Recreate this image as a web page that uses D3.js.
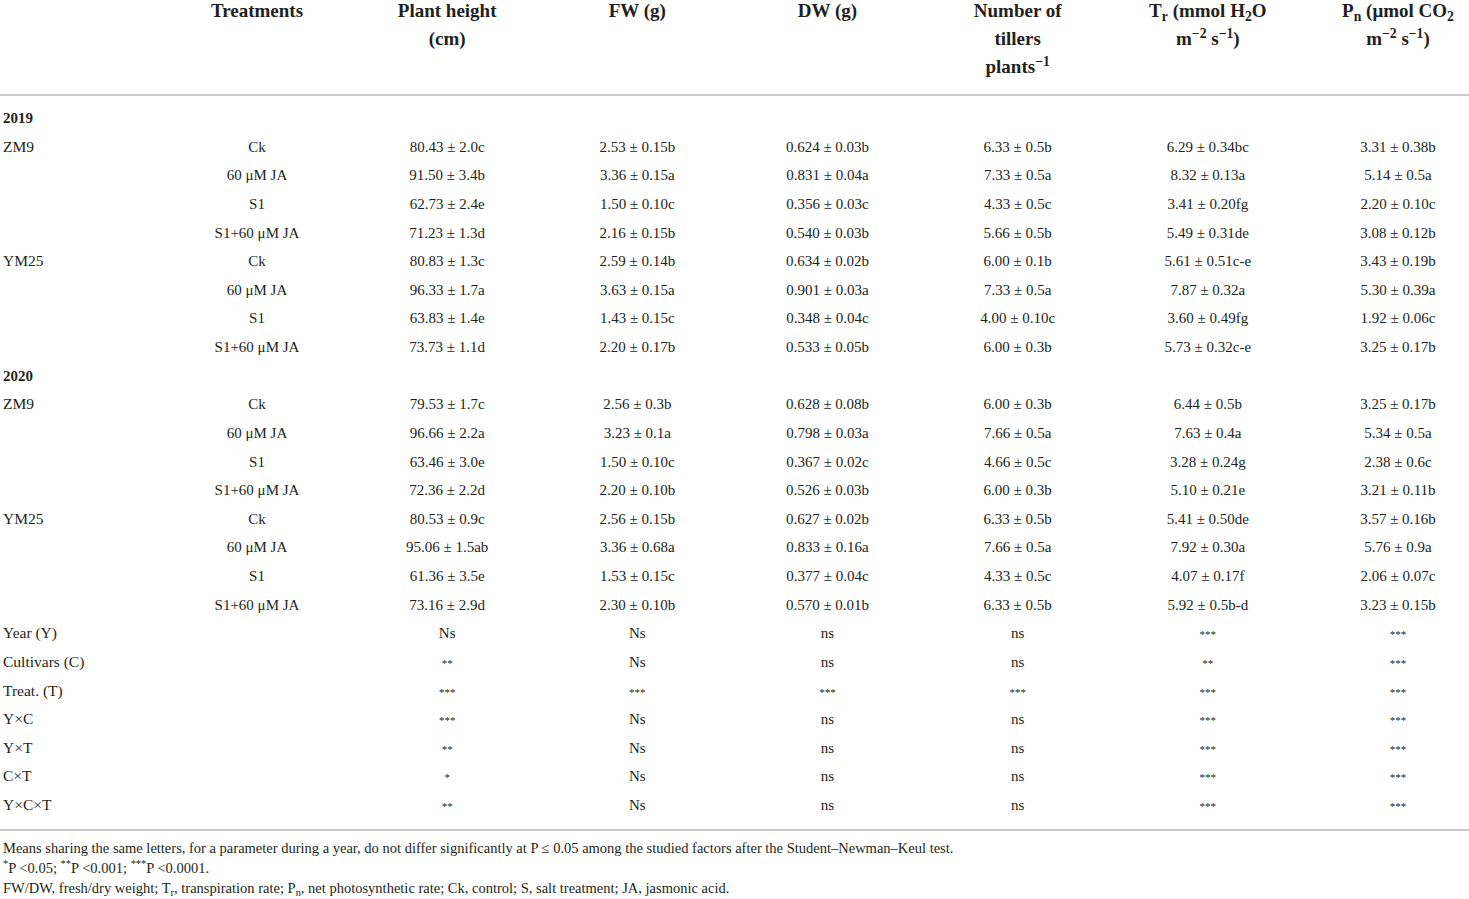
<!DOCTYPE html>
<html lang="en">
<head>
  <meta charset="UTF-8">
  <title>Table</title>
  <script src="https://cdn.jsdelivr.net/npm/d3@7"></script>
  <style>
    body { margin: 0; background: #fff; }
    svg { display: block; }
  </style>
</head>
<body>
  <svg width="1469" height="899"></svg>
  <script>
    // table contents
    var years = ['2019', '2020'];
    var cultivars = ['ZM9', 'YM25'];
    var treatments = ['Ck', '60 μM JA', 'S1', 'S1+60 μM JA'];

    var plantHeight = ['80.43 ± 2.0c', '91.50 ± 3.4b', '62.73 ± 2.4e', '71.23 ± 1.3d', '80.83 ± 1.3c', '96.33 ± 1.7a', '63.83 ± 1.4e', '73.73 ± 1.1d',
                       '79.53 ± 1.7c', '96.66 ± 2.2a', '63.46 ± 3.0e', '72.36 ± 2.2d', '80.53 ± 0.9c', '95.06 ± 1.5ab', '61.36 ± 3.5e', '73.16 ± 2.9d'];
    var freshWeight = ['2.53 ± 0.15b', '3.36 ± 0.15a', '1.50 ± 0.10c', '2.16 ± 0.15b', '2.59 ± 0.14b', '3.63 ± 0.15a', '1.43 ± 0.15c', '2.20 ± 0.17b',
                       '2.56 ± 0.3b', '3.23 ± 0.1a', '1.50 ± 0.10c', '2.20 ± 0.10b', '2.56 ± 0.15b', '3.36 ± 0.68a', '1.53 ± 0.15c', '2.30 ± 0.10b'];
    var dryWeight = ['0.624 ± 0.03b', '0.831 ± 0.04a', '0.356 ± 0.03c', '0.540 ± 0.03b', '0.634 ± 0.02b', '0.901 ± 0.03a', '0.348 ± 0.04c', '0.533 ± 0.05b',
                     '0.628 ± 0.08b', '0.798 ± 0.03a', '0.367 ± 0.02c', '0.526 ± 0.03b', '0.627 ± 0.02b', '0.833 ± 0.16a', '0.377 ± 0.04c', '0.570 ± 0.01b'];
    var tillers = ['6.33 ± 0.5b', '7.33 ± 0.5a', '4.33 ± 0.5c', '5.66 ± 0.5b', '6.00 ± 0.1b', '7.33 ± 0.5a', '4.00 ± 0.10c', '6.00 ± 0.3b',
                   '6.00 ± 0.3b', '7.66 ± 0.5a', '4.66 ± 0.5c', '6.00 ± 0.3b', '6.33 ± 0.5b', '7.66 ± 0.5a', '4.33 ± 0.5c', '6.33 ± 0.5b'];
    var transpiration = ['6.29 ± 0.34bc', '8.32 ± 0.13a', '3.41 ± 0.20fg', '5.49 ± 0.31de', '5.61 ± 0.51c-e', '7.87 ± 0.32a', '3.60 ± 0.49fg', '5.73 ± 0.32c-e',
                         '6.44 ± 0.5b', '7.63 ± 0.4a', '3.28 ± 0.24g', '5.10 ± 0.21e', '5.41 ± 0.50de', '7.92 ± 0.30a', '4.07 ± 0.17f', '5.92 ± 0.5b-d'];
    var photosynthesis = ['3.31 ± 0.38b', '5.14 ± 0.5a', '2.20 ± 0.10c', '3.08 ± 0.12b', '3.43 ± 0.19b', '5.30 ± 0.39a', '1.92 ± 0.06c', '3.25 ± 0.17b',
                          '3.25 ± 0.17b', '5.34 ± 0.5a', '2.38 ± 0.6c', '3.21 ± 0.11b', '3.57 ± 0.16b', '5.76 ± 0.9a', '2.06 ± 0.07c', '3.23 ± 0.15b'];

    var effects = ['Year (Y)', 'Cultivars (C)', 'Treat. (T)', 'Y×C', 'Y×T', 'C×T', 'Y×C×T'];
    var sigHeight = ['Ns', '**', '***', '***', '**', '*', '**'];
    var sigFW = ['Ns', 'Ns', '***', 'Ns', 'Ns', 'Ns', 'Ns'];
    var sigDW = ['ns', 'ns', '***', 'ns', 'ns', 'ns', 'ns'];
    var sigTillers = ['ns', 'ns', '***', 'ns', 'ns', 'ns', 'ns'];
    var sigTr = ['***', '**', '***', '***', '***', '***', '***'];
    var sigPn = ['***', '***', '***', '***', '***', '***', '***'];

    // header: one array of lines per column, each line a list of [text, shift]
    var headers = [
      [[['Treatments']]],
      [[['Plant height']], [['(cm)']]],
      [[['FW (g)']]],
      [[['DW (g)']]],
      [[['Number of']], [['tillers']], [['plants'], ['−1', 'sup']]],
      [[['T'], ['r', 'sub'], [' (mmol H'], ['2', 'sub'], ['O']], [['m'], ['−2', 'sup'], [' s'], ['−1', 'sup'], [')']]],
      [[['P'], ['n', 'sub'], [' (μmol CO'], ['2', 'sub']], [['m'], ['−2', 'sup'], [' s'], ['−1', 'sup'], [')']]]
    ];

    var footnotes = [
      [['Means sharing the same letters, for a parameter during a year, do not differ significantly at P ≤ 0.05 among the studied factors after the Student–Newman–Keul test.']],
      [['*', 'sup'], ['P <0.05; '], ['**', 'sup'], ['P <0.001; '], ['***', 'sup'], ['P <0.0001.']],
      [['FW/DW, fresh/dry weight; T'], ['r', 'sub'], [', transpiration rate; P'], ['n', 'sub'], [', net photosynthetic rate; Ck, control; S, salt treatment; JA, jasmonic acid.']]
    ];

    var valueColumns = [plantHeight, freshWeight, dryWeight, tillers, transpiration, photosynthesis];
    var sigColumns = [sigHeight, sigFW, sigDW, sigTillers, sigTr, sigPn];

    // build the row list
    var rows = [];
    years.forEach(function(year, yi) {
      rows.push({ label: year, bold: true, cells: [] });
      cultivars.forEach(function(cv, ci) {
        treatments.forEach(function(tr, ti) {
          var k = yi * 8 + ci * 4 + ti;
          rows.push({
            label: ti === 0 ? cv : '',
            cells: [tr].concat(valueColumns.map(function(col) { return col[k]; }))
          });
        });
      });
    });
    effects.forEach(function(eff, ei) {
      rows.push({
        label: eff,
        cells: [''].concat(sigColumns.map(function(col) { return col[ei]; }))
      });
    });

    var svg = d3.select('svg');
    var width = +svg.attr('width');
    var font = '"Liberation Serif", "DejaVu Serif", serif';
    var ink = '#231f20';

    var xCol = d3.scaleLinear().domain([0, 6]).range([257, 1398]);
    var yRow = d3.scalePoint().domain(d3.range(rows.length)).range([118, 805]);
    var yHead = d3.scalePoint().domain([0, 1, 2]).range([17, 73]);
    var yNote = d3.scalePoint().domain([0, 1, 2]).range([853, 893]);
    var leftX = 3;

    function rich(parent, x, y, parts, size, anchor, weight) {
      var t = parent.append('text')
        .attr('x', x)
        .attr('y', y)
        .attr('text-anchor', anchor)
        .attr('font-family', font)
        .attr('font-size', size)
        .attr('font-weight', weight || 'normal')
        .attr('fill', ink);
      var shift = 0;
      parts.forEach(function(p) {
        var target = p[1] === 'sup' ? -0.38 * size : p[1] === 'sub' ? 0.22 * size : 0;
        var ts = t.append('tspan').text(p[0]).attr('dy', target - shift);
        if (p[1]) ts.attr('font-size', size * 0.72);
        shift = target;
      });
      return t;
    }

    // header
    headers.forEach(function(lines, ci) {
      lines.forEach(function(line, li) {
        rich(svg, xCol(ci), yHead(li), line, 19, 'middle', 'bold');
      });
    });

    svg.append('line')
      .attr('x1', 0).attr('x2', width)
      .attr('y1', 95).attr('y2', 95)
      .attr('stroke', '#c9c9c9').attr('stroke-width', 2);

    // body rows
    rows.forEach(function(row, ri) {
      var y = yRow(ri) + 5;
      if (row.label) {
        rich(svg, leftX, y, [[row.label]], row.bold ? 15 : 15.5, 'start', row.bold ? 'bold' : 'normal');
      }
      row.cells.forEach(function(cell, ci) {
        if (!cell) return;
        var isStar = /^\*+$/.test(cell);
        rich(svg, xCol(ci), y, [[cell]], isStar ? 11 : 15, 'middle');
      });
    });

    svg.append('line')
      .attr('x1', 0).attr('x2', width)
      .attr('y1', 830).attr('y2', 830)
      .attr('stroke', '#c9c9c9').attr('stroke-width', 2);

    // notes
    footnotes.forEach(function(parts, i) {
      rich(svg, leftX, yNote(i), parts, 14.5, 'start');
    });
  </script>
</body>
</html>
